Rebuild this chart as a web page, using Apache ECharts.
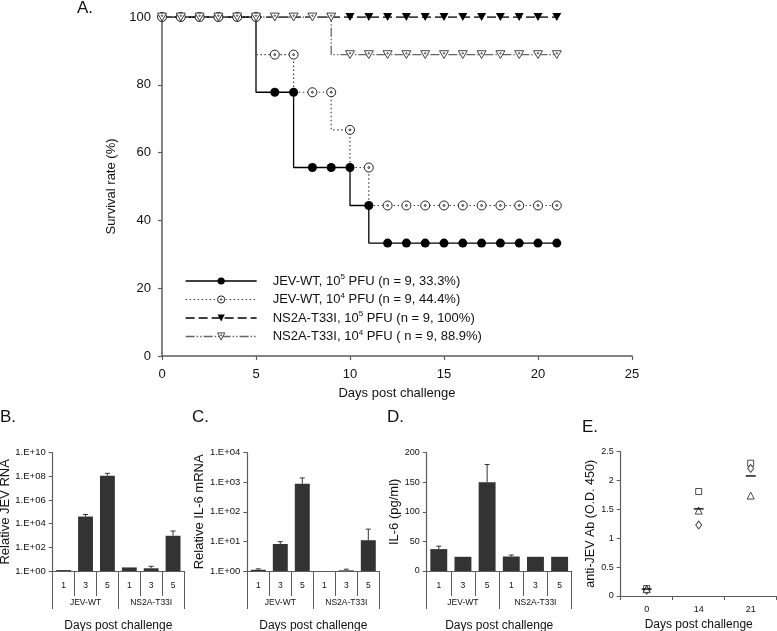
<!DOCTYPE html>
<html><head><meta charset="utf-8">
<script src="https://cdn.jsdelivr.net/npm/echarts@6/dist/echarts.min.js"></script>
<style>html,body{margin:0;padding:0;background:#fff}#c{width:777px;height:631px}</style>
</head><body><div id="c"></div>
<script>
// ---------- Panel A: survival ----------
const days = [0,1,2,3,4,5,6,7,8,9,10,11,12,13,14,15,16,17,18,19,20,21];
const jevWT5 = [100,100,100,100,100,100,77.8,77.8,55.6,55.6,55.6,44.4,33.3,33.3,33.3,33.3,33.3,33.3,33.3,33.3,33.3,33.3];
const jevWT4 = [100,100,100,100,100,100,88.9,88.9,77.8,77.8,66.7,55.6,44.4,44.4,44.4,44.4,44.4,44.4,44.4,44.4,44.4,44.4];
const ns2a5  = [100,100,100,100,100,100,100,100,100,100,100,100,100,100,100,100,100,100,100,100,100,100];
const ns2a4  = [100,100,100,100,100,100,100,100,100,100,88.9,88.9,88.9,88.9,88.9,88.9,88.9,88.9,88.9,88.9,88.9,88.9];
const seriesNames = [
  'JEV-WT, 10^5 PFU (n = 9, 33.3%)',
  'JEV-WT, 10^4 PFU (n = 9, 44.4%)',
  'NS2A-T33I, 10^5 PFU (n = 9, 100%)',
  'NS2A-T33I, 10^4 PFU ( n = 9, 88.9%)'
];
// ---------- Panels B-D: bars ----------
const groupDays = ['1','3','5','1','3','5'];
const groups = ['JEV-WT','NS2A-T33I'];
const jevRNA    = [1.2, 4.0e4, 1.15e8, 2.0, 1.7, 950];
const jevRNAErr = [1.25, 6.0e4, 1.8e8, 2.1, 2.5, 2400];
const il6mRNA    = [1.1, 8.2, 900, 1.0, 1.05, 11];
const il6mRNAErr = [1.18, 9.8, 1400, 1.0, 1.15, 26];
const il6pg    = [37, 24, 150, 24.5, 24, 24];
const il6pgErr = [42, 24, 180, 27, 24, 24];
// ---------- Panel E: antibody ----------
const eDays = ['0','14','21'];
const eSquare   = [0.13, 1.81, 2.30];
const eDiamond  = [0.10, 1.23, 2.21];
const eTriangle = [0.12, 1.48, 1.74];
const eMean     = [0.12, 1.51, 2.08];

const FONT = 'Liberation Sans, Arial, Helvetica, sans-serif';
const AX = '#5c5c5c';
const TXT = '#111';
const BAR = '#333333';

const circleDot = 'path://M10,0A10,10,0,1,1,-10,0A10,10,0,1,1,10,0ZM2,0A2,2,0,1,1,-2,0A2,2,0,1,1,2,0Z';
const triDown = 'path://M-10,-8.66L10,-8.66L0,8.66Z';
const triDownDot = 'path://M-10,-8.66L10,-8.66L0,8.66ZM1.6,-2.9A1.6,1.6,0,1,1,-1.6,-2.9A1.6,1.6,0,1,1,1.6,-2.9Z';

const seriesStyles = [
  {symbol:'circle', item:{color:'#000', borderColor:'#000', borderWidth:0}, line:{color:'#000', width:1.3, type:'solid'}},
  {symbol:circleDot, item:{color:'#fff', borderColor:'#222', borderWidth:1}, line:{color:'#444', width:1.2, type:[1.5,2.5]}},
  {symbol:triDown, item:{color:'#000', borderColor:'#000', borderWidth:0}, line:{color:'#000', width:1.3, type:[9,4]}},
  {symbol:triDownDot, item:{color:'#fff', borderColor:'#444', borderWidth:1}, line:{color:'#666', width:1.3, type:[9,2,1.5,2,1.5,2]}}
];
const survival = [jevWT5, jevWT4, ns2a5, ns2a4];

function expLabel(v){
  const e = Math.round(Math.log10(v));
  return '1.E+' + String(e).padStart(2,'0');
}
function errRender(params, api){
  const x = api.value(0), top = api.value(1), base = api.value(2);
  const p1 = api.coord([x, base]);
  const p2 = api.coord([x, top]);
  if (Math.abs(p1[1]-p2[1]) < 0.5) return null;
  return {type:'group', children:[
    {type:'line', shape:{x1:p1[0],y1:p1[1],x2:p2[0],y2:p2[1]}, style:{stroke:BAR, lineWidth:1}},
    {type:'line', shape:{x1:p2[0]-2.5,y1:p2[1],x2:p2[0]+2.5,y2:p2[1]}, style:{stroke:BAR, lineWidth:1}}
  ]};
}
function yAxisSmall(grid, extra){
  return Object.assign({
    gridIndex:grid, nameLocation:'middle',
    nameTextStyle:{fontSize:13, color:TXT, fontFamily:FONT},
    axisLine:{show:true, lineStyle:{color:AX, width:1.2}},
    axisTick:{show:true, length:4, lineStyle:{color:AX}},
    splitLine:{show:false}
  }, extra);
}
function catAxis(grid){
  return {gridIndex:grid, type:'category', data:groupDays, position:'bottom',
    axisLine:{show:true, lineStyle:{color:AX, width:1.2}},
    axisTick:{show:true, interval:0, alignWithLabel:false, length:25, lineStyle:{color:AX}},
    axisLabel:{interval:0, fontSize:8.5, color:TXT, margin:10, fontFamily:FONT},
    splitLine:{show:false}};
}
function groupAxis(grid){
  return {gridIndex:grid, type:'category', data:groups, position:'bottom',
    axisLine:{show:false},
    axisTick:{show:true, interval:0, alignWithLabel:false, length:38, lineStyle:{color:AX}},
    axisLabel:{interval:0, fontSize:8.5, color:TXT, margin:27, fontFamily:FONT},
    name:'Days post challenge', nameLocation:'middle', nameGap:49,
    nameTextStyle:{fontSize:12, color:TXT, fontFamily:FONT},
    splitLine:{show:false}};
}

const option = {
  animation:false,
  backgroundColor:'#fff',
  textStyle:{fontFamily:FONT},
  title:[
    {text:'A.', left:77, top:0},
    {text:'B.', left:0, top:409},
    {text:'C.', left:192, top:409},
    {text:'D.', left:387, top:409},
    {text:'E.', left:582, top:419}
  ].map(t=>Object.assign(t,{padding:0, textStyle:{fontSize:17, fontWeight:'normal', color:TXT, fontFamily:FONT}})),
  grid:[
    {left:162, top:17, width:470, height:339, outerBoundsMode:'none'},
    {left:52.7, top:452.7, width:131.3, height:118.3, outerBoundsMode:'none'},
    {left:247.3, top:452.7, width:132, height:118.3, outerBoundsMode:'none'},
    {left:426.7, top:452.7, width:145, height:118.3, outerBoundsMode:'none'},
    {left:620.7, top:451.7, width:156, height:144.3, outerBoundsMode:'none'}
  ],
  legend:{
    left:185, top:273, orient:'vertical', padding:0,
    itemWidth:71, itemHeight:9, itemGap:2.5,
    data:seriesNames.map((n,i)=>({name:n, itemStyle:seriesStyles[i].item, lineStyle:seriesStyles[i].line})),
    formatter:n=>n.replace(/10\^(\d)/, '10{sup|$1}'),
    textStyle:{fontSize:13, color:TXT, lineHeight:16, fontFamily:FONT, padding:[0,0,0,11],
      rich:{sup:{fontSize:8, lineHeight:9, verticalAlign:'top', color:TXT, fontFamily:FONT}}}
  },
  xAxis:[
    {gridIndex:0, type:'value', min:0, max:25, interval:5,
     axisLine:{show:true, onZero:false, lineStyle:{color:AX, width:1.5}},
     axisTick:{show:true, length:4, lineStyle:{color:AX, width:1.2}},
     axisLabel:{fontSize:13, color:TXT, margin:12, fontFamily:FONT},
     splitLine:{show:false},
     name:'Days post challenge', nameLocation:'middle', nameGap:31,
     nameTextStyle:{fontSize:13, color:TXT, fontFamily:FONT}},
    catAxis(1), groupAxis(1),
    catAxis(2), groupAxis(2),
    catAxis(3), groupAxis(3),
    {gridIndex:4, type:'category', data:eDays,
     axisLine:{show:true, lineStyle:{color:AX, width:1.2}},
     axisTick:{show:true, length:4, lineStyle:{color:AX}},
     axisLabel:{fontSize:9, color:TXT, margin:9, fontFamily:FONT},
     name:'Days post challenge', nameLocation:'middle', nameGap:23,
     nameTextStyle:{fontSize:12, color:TXT, fontFamily:FONT},
     splitLine:{show:false}}
  ],
  yAxis:[
    {gridIndex:0, type:'value', min:0, max:100, interval:20,
     axisLine:{show:true, lineStyle:{color:AX, width:1.5}},
     axisTick:{show:true, length:4, lineStyle:{color:AX, width:1.2}},
     axisLabel:{fontSize:13, color:TXT, margin:11, fontFamily:FONT},
     splitLine:{show:false},
     name:'Survival rate (%)', nameLocation:'middle', nameGap:36,
     nameTextStyle:{fontSize:13, color:TXT, fontFamily:FONT}},
    yAxisSmall(1, {type:'log', logBase:10, min:1, max:1e10, interval:2,
      axisLabel:{fontSize:9.5, color:TXT, margin:7, fontFamily:FONT, formatter:expLabel},
      name:'Relative JEV RNA', nameGap:36}),
    yAxisSmall(2, {type:'log', logBase:10, min:1, max:1e4,
      axisLabel:{fontSize:9.5, color:TXT, margin:7, fontFamily:FONT, formatter:expLabel},
      name:'Relative IL-6 mRNA', nameGap:37}),
    yAxisSmall(3, {type:'value', min:0, max:200, interval:50,
      axisLabel:{fontSize:9, color:TXT, margin:7, fontFamily:FONT},
      name:'IL-6 (pg/ml)', nameGap:25}),
    yAxisSmall(4, {type:'value', min:0, max:2.5, interval:0.5,
      axisLabel:{fontSize:9, color:TXT, margin:7, fontFamily:FONT},
      name:'anti-JEV Ab (O.D. 450)', nameGap:22, nameTextStyle:{fontSize:12.5, color:TXT, fontFamily:FONT}})
  ],
  series: survival.map((arr,k)=>({
      name:seriesNames[k], type:'line', step:'start', xAxisIndex:0, yAxisIndex:0,
      data:days.map((d,i)=>[d, arr[i]]), symbol:seriesStyles[k].symbol, symbolSize:9, symbolKeepAspect:true,
      itemStyle:seriesStyles[k].item, lineStyle:seriesStyles[k].line
    })).concat([
    {type:'bar', xAxisIndex:1, yAxisIndex:1, data:jevRNA, barWidth:'68%', itemStyle:{color:BAR}},
    {type:'custom', xAxisIndex:1, yAxisIndex:1, renderItem:errRender, encode:{x:0, y:1},
     data:jevRNA.map((v,i)=>[i, jevRNAErr[i], v]), z:3},
    {type:'bar', xAxisIndex:3, yAxisIndex:2, data:il6mRNA, barWidth:'68%', itemStyle:{color:BAR}},
    {type:'custom', xAxisIndex:3, yAxisIndex:2, renderItem:errRender, encode:{x:0, y:1},
     data:il6mRNA.map((v,i)=>[i, il6mRNAErr[i], v]), z:3},
    {type:'bar', xAxisIndex:5, yAxisIndex:3, data:il6pg, barWidth:'70%', itemStyle:{color:BAR}},
    {type:'custom', xAxisIndex:5, yAxisIndex:3, renderItem:errRender, encode:{x:0, y:1},
     data:il6pg.map((v,i)=>[i, il6pgErr[i], v]), z:3},

    {type:'scatter', xAxisIndex:7, yAxisIndex:4, data:eSquare, symbol:'rect', symbolSize:6,
     itemStyle:{color:'#fff', borderColor:'#222', borderWidth:1}},
    {type:'scatter', xAxisIndex:7, yAxisIndex:4, data:eDiamond, symbol:'diamond', symbolSize:[6,8],
     itemStyle:{color:'#fff', borderColor:'#222', borderWidth:1}},
    {type:'scatter', xAxisIndex:7, yAxisIndex:4, data:eTriangle, symbol:'triangle', symbolSize:7,
     itemStyle:{color:'#fff', borderColor:'#222', borderWidth:1}},
    {type:'scatter', xAxisIndex:7, yAxisIndex:4, data:eMean, symbol:'rect', symbolSize:[10,1.8],
     itemStyle:{color:'#111'}}
  ])
};
const chart = echarts.init(document.getElementById('c'), null, {renderer:'canvas'});
chart.setOption(option);
</script></body></html>
